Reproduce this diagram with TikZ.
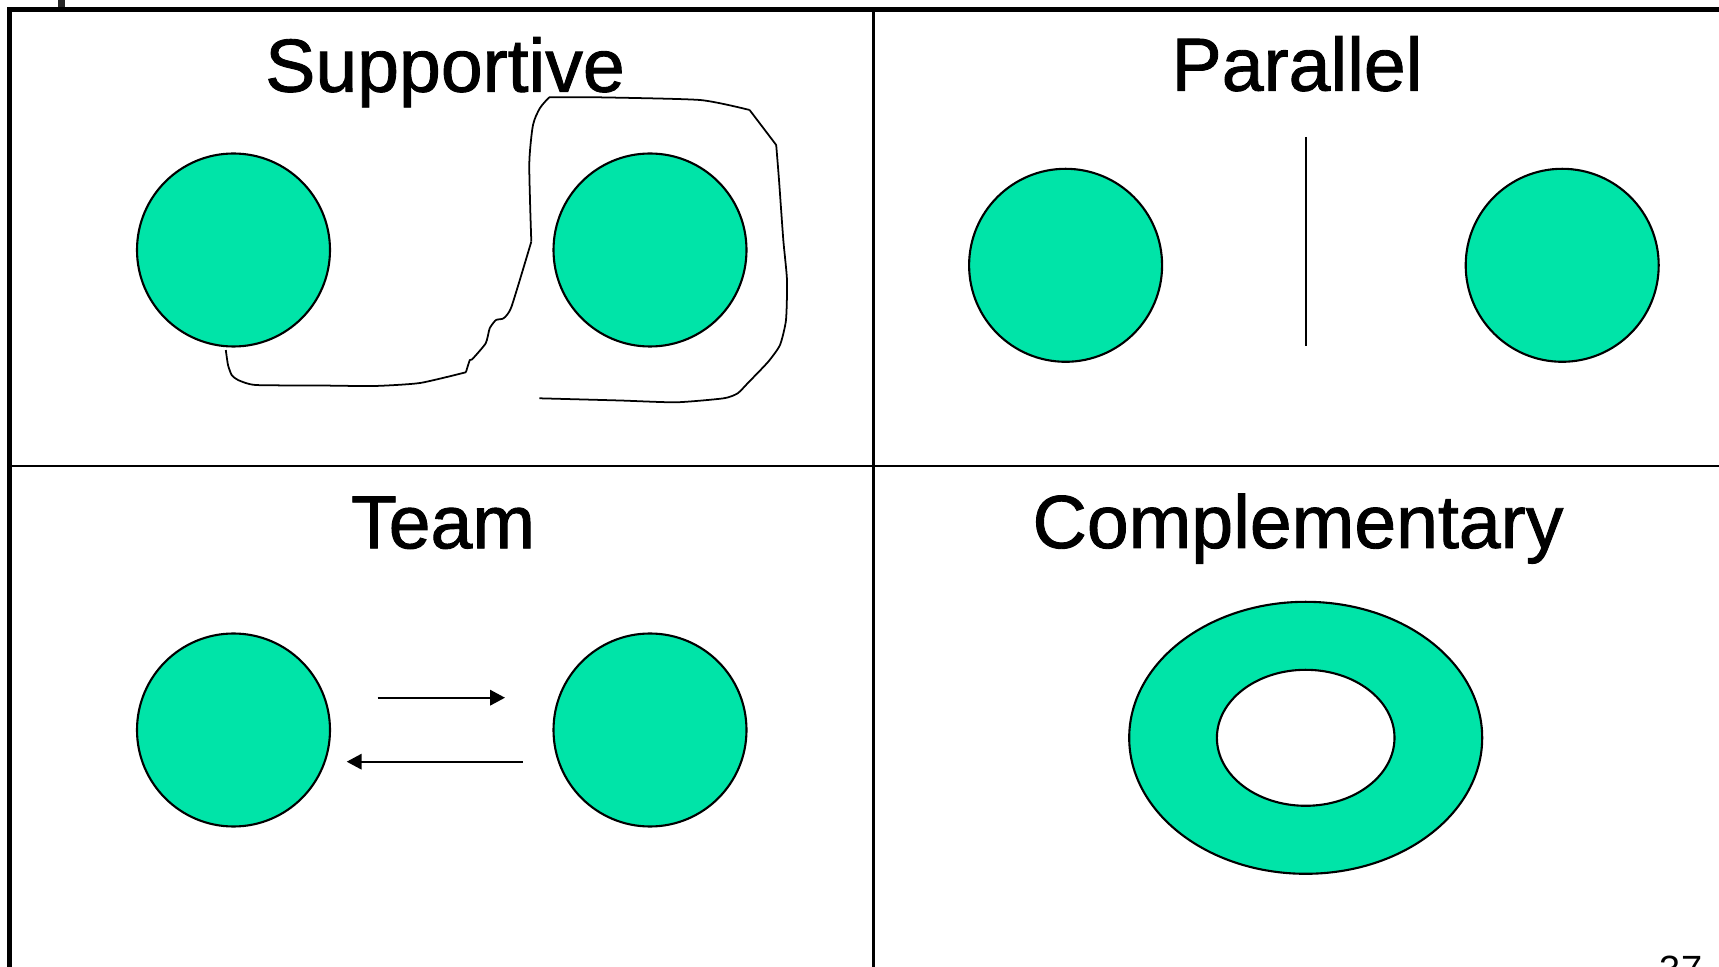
\documentclass[tikz,border=0pt]{standalone}
\usepackage{fontspec}
\setmainfont{Liberation Sans}
\newfontfamily\headfont[FakeBold=1.2]{Liberation Sans}
\usetikzlibrary{shapes.geometric,arrows.meta}
\definecolor{teal}{RGB}{0,228,168}
\tikzset{
  title/.style={anchor=base, inner sep=0pt, font=\headfont\fontsize{21.4}{25}\selectfont},
  disc/.style={circle, draw=black, line width=0.6pt, fill=teal, minimum size=19.3mm, inner sep=0pt},
  frame/.style={line width=1.5pt, line cap=rect},
  divider/.style={line width=0.7pt},
  flow/.style={line width=0.6pt, -{Triangle[length=1.5mm,width=1.55mm]}},
  sketch/.style={line width=0.5pt, line join=round}
}
\begin{document}
\begin{tikzpicture}[x=0.1mm, y=-0.1mm]
\useasboundingbox (0,0) rectangle (1719,967);

% outer frame and quadrant dividers
\coordinate (tl) at (9.7,9.7);
\coordinate (tr) at (1725,9.7);
\coordinate (bl) at (9.7,975);
\coordinate (stubtop) at (61.5,-2);
\coordinate (stubbot) at (61.5,9.7);
\coordinate (vtop) at (873.7,9.7);
\coordinate (vbot) at (873.7,975);
\coordinate (hl) at (9.7,466);
\coordinate (hr) at (1725,466);
\draw[line width=2pt, draw=black!85] (stubtop) -- (stubbot);
\draw[frame] (bl) -- (tl) -- (tr);
\draw[divider] (vtop) -- (vbot);
\draw[divider] (hl) -- (hr);

% titles
\node[title] (tsup)  at (445,91.7)  {Supportive};
\node[title] (tpar)  at (1297,90.7) {Parallel};
\node[title] (tteam) at (443,548.3) {Team};
\node[title] (tcomp) at (1298,548)  {Complementary};

% supportive
\node[disc] (s1) at (233.5,250) {};
\node[disc] (s2) at (650,250) {};
\draw[sketch] plot[smooth, tension=0.35] coordinates {
  (225.8,350) (228,365) (231.7,375) (238,380) (255.6,385) (320,385.5)
  (374.6,386) (420,383) (465.9,372.3)};
\draw[sketch] plot[smooth, tension=0.35] coordinates {
  (465.9,372.3) (469.8,360) (472,359.5) (485.7,343.3) (489.7,328.3)
  (496,320) (503.6,318.3) (511.5,306.7) (531.3,241.7)};
\draw[sketch] plot[smooth, tension=0.45] coordinates {
  (531.3,241.7) (530,200) (529.4,160) (533,125) (540,108) (549.2,97.3)};
\draw[sketch] plot[smooth, tension=0.35] coordinates {
  (549.2,97.3) (596.8,97.3) (700,100) (749.6,110)};
\draw[sketch] (749.6,110) -- (776.2,145);
\draw[sketch] plot[smooth, tension=0.35] coordinates {
  (776.2,145) (779,180) (783.3,240) (787,280) (786,320) (780,345) (768,362)
  (747.6,383.3) (737.7,393.3) (723.8,398.3) (676.2,402.3) (620,400.5) (539.3,398.3)};

% parallel
\node[disc] (p1) at (1065.6,265.3) {};
\node[disc] (p2) at (1562.2,265.3) {};
\coordinate (ptop) at (1305.7,137);
\coordinate (pbot) at (1305.7,346);
\draw[line width=0.5pt] (ptop) -- (pbot);

% team
\node[disc] (t1) at (233.5,730) {};
\node[disc] (t2) at (650,730) {};
\coordinate (a1s) at (377.7,697.7);
\coordinate (a1e) at (505,697.7);
\coordinate (a2s) at (522.7,761.7);
\coordinate (a2e) at (346.7,761.7);
\draw[flow] (a1s) -- (a1e);
\draw[flow] (a2s) -- (a2e);

% complementary
\node[ellipse, draw=black, line width=0.6pt, fill=teal, minimum width=35.3mm, minimum height=27.2mm, inner sep=0pt] (ring) at (1305.7,737.8) {};
\node[ellipse, draw=black, line width=0.6pt, fill=white, minimum width=17.76mm, minimum height=13.6mm, inner sep=0pt] (hole) at (ring.center) {};

% page number, running off the lower edge
\node[anchor=base, inner sep=0pt, font=\fontsize{10.8}{12}\selectfont] (pnum) at (1681,982) {37};
\end{tikzpicture}
\end{document}
